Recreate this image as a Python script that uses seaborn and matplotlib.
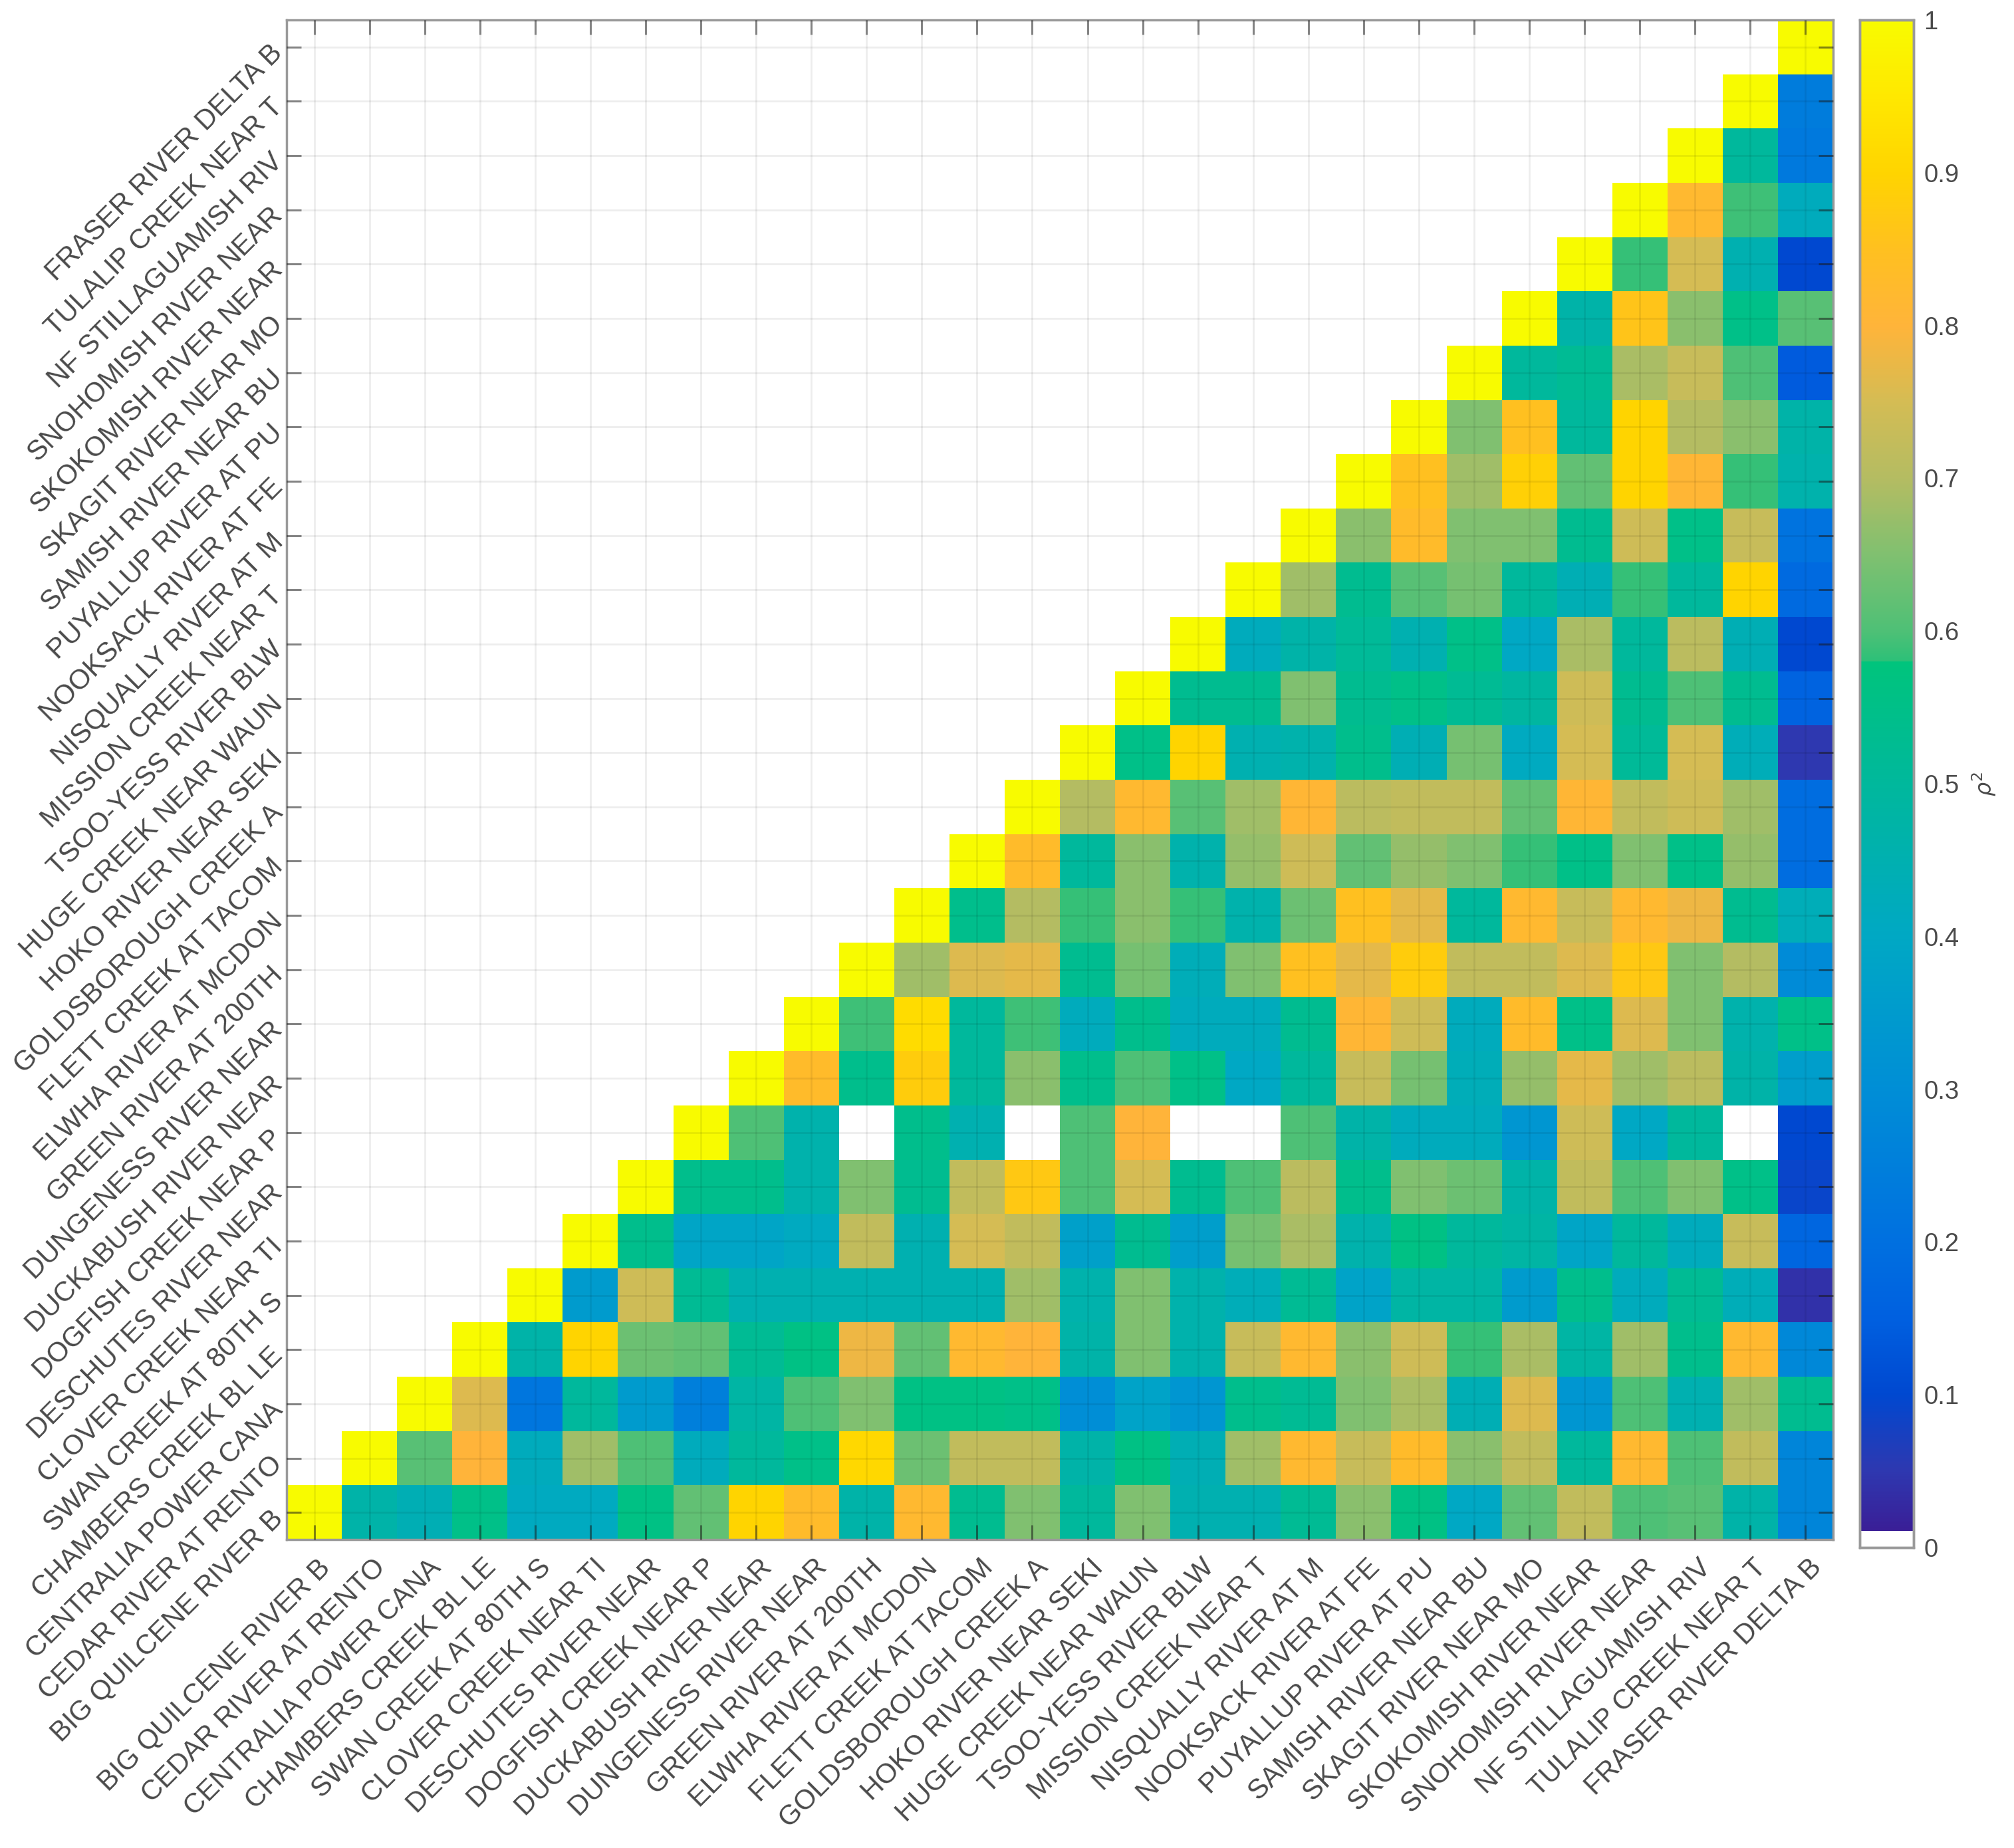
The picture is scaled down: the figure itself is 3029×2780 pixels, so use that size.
import numpy as np
import seaborn as sns
from matplotlib import pyplot as plt
from matplotlib.colors import LinearSegmentedColormap
from matplotlib.transforms import ScaledTranslation

stations = [
    'BIG QUILCENE RIVER B', 'CEDAR RIVER AT RENTO', 'CENTRALIA POWER CANA',
    'CHAMBERS CREEK BL LE', 'SWAN CREEK AT 80TH S', 'CLOVER CREEK NEAR TI',
    'DESCHUTES RIVER NEAR', 'DOGFISH CREEK NEAR P', 'DUCKABUSH RIVER NEAR',
    'DUNGENESS RIVER NEAR', 'GREEN RIVER AT 200TH', 'ELWHA RIVER AT MCDON',
    'FLETT CREEK AT TACOM', 'GOLDSBOROUGH CREEK A', 'HOKO RIVER NEAR SEKI',
    'HUGE CREEK NEAR WAUN', 'TSOO-YESS RIVER BLW', 'MISSION CREEK NEAR T',
    'NISQUALLY RIVER AT M', 'NOOKSACK RIVER AT FE', 'PUYALLUP RIVER AT PU',
    'SAMISH RIVER NEAR BU', 'SKAGIT RIVER NEAR MO', 'SKOKOMISH RIVER NEAR',
    'SNOHOMISH RIVER NEAR', 'NF STILLAGUAMISH RIV', 'TULALIP CREEK NEAR T',
    'FRASER RIVER DELTA B',
]

# each row starts at the diagonal, 0 = the white cells
big_quilcene = [1, .47, .44, .55, .41, .41, .56, .62, .9, .83, .47, .82, .53, .65, .5, .65, .45, .45, .52, .66, .56, .4, .62, .72, .6, .61, .47, .27]
cedar = [1, .61, .8, .42, .68, .6, .42, .5, .55, .91, .63, .72, .72, .47, .56, .44, .68, .82, .73, .83, .66, .72, .5, .82, .6, .72, .27]
centralia = [1, .76, .22, .5, .35, .25, .48, .6, .65, .56, .56, .55, .3, .38, .33, .54, .52, .65, .69, .44, .76, .33, .6, .45, .68, .53]
chambers = [1, .47, .9, .63, .62, .52, .56, .78, .62, .82, .8, .47, .65, .46, .73, .82, .66, .74, .585, .69, .48, .68, .54, .82, .28]
swan = [1, .35, .74, .52, .45, .45, .45, .45, .45, .68, .46, .65, .46, .43, .52, .38, .48, .48, .35, .54, .42, .52, .43, .04]
clover = [1, .54, .39, .39, .41, .72, .45, .75, .72, .37, .53, .36, .64, .69, .46, .56, .5, .48, .39, .5, .42, .73, .17]
deschutes = [1, .54, .54, .46, .65, .53, .72, .87, .6, .75, .53, .6, .71, .54, .65, .63, .47, .72, .6, .65, .55, .09]
dogfish = [1, .6, .46, 0, .54, .45, 0, .6, .8, 0, 0, .6, .47, .42, .42, .33, .74, .4, .5, 0, .1]
duckabush = [1, .83, .54, .88, .5, .66, .54, .6, .55, .4, .5, .73, .64, .43, .67, .77, .68, .71, .47, .36]
dungeness = [1, .59, .92, .5, .59, .42, .54, .42, .42, .53, .81, .74, .42, .83, .55, .76, .65, .46, .55]
green = [1, .68, .76, .77, .53, .64, .43, .65, .85, .77, .88, .72, .72, .76, .87, .65, .7, .29]
elwha = [1, .54, .7, .585, .66, .585, .46, .63, .85, .77, .5, .82, .73, .82, .78, .53, .43]
flett = [1, .83, .5, .66, .46, .67, .74, .62, .67, .65, .585, .55, .65, .55, .67, .19]
goldsborough = [1, .7, .82, .61, .68, .81, .71, .72, .72, .62, .81, .72, .74, .68, .19]
hoko = [1, .55, .9, .45, .46, .54, .44, .64, .41, .75, .51, .75, .43, .05]
huge = [1, .53, .53, .65, .53, .55, .52, .49, .74, .53, .6, .53, .16]
tsoo_yess = [1, .42, .47, .51, .45, .55, .4, .69, .5, .71, .44, .1]
mission = [1, .68, .53, .61, .64, .5, .44, .585, .5, .9, .18]
nisqually = [1, .66, .83, .65, .65, .53, .74, .55, .73, .21]
nooksack = [1, .85, .68, .89, .62, .9, .81, .585, .46]
puyallup = [1, .65, .85, .5, .9, .7, .66, .47]
samish = [1, .5, .52, .69, .73, .6, .14]
skagit = [1, .47, .86, .66, .55, .61]
skokomish = [1, .585, .75, .45, .1]
snohomish = [1, .82, .59, .42]
nf_stillaguamish = [1, .5, .23]
tulalip = [1, .24]
fraser = [1]

rows = [big_quilcene, cedar, centralia, chambers, swan, clover, deschutes,
        dogfish, duckabush, dungeness, green, elwha, flett, goldsborough,
        hoko, huge, tsoo_yess, mission, nisqually, nooksack, puyallup,
        samish, skagit, skokomish, snohomish, nf_stillaguamish, tulalip, fraser]

colorbar_ticks = [0, .1, .2, .3, .4, .5, .6, .7, .8, .9, 1]
colorbar_labels = ['0', '0.1', '0.2', '0.3', '0.4', '0.5', '0.6', '0.7', '0.8', '0.9', '1']

n = len(stations)
grid = np.full((n, n), np.nan)
for i, row in enumerate(rows):
    grid[i, i:] = row

# parula style map with white below 0.01 and the step near 0.58
cmap = LinearSegmentedColormap.from_list('r2', [
    (0, '#ffffff'), (.0105, '#ffffff'), (.0105, '#3a1e96'), (.05, '#2e38b0'),
    (.1, '#0048d0'), (.15, '#0060e0'), (.2, '#0070e0'), (.3, '#008ed6'),
    (.4, '#00a8c4'), (.45, '#00b0b0'), (.5, '#00b89c'), (.58, '#00c47c'),
    (.58, '#2cc078'), (.6, '#4ec076'), (.65, '#80c070'), (.7, '#b4bc62'),
    (.75, '#d4bc54'), (.8, '#ffb43a'), (.85, '#ffc020'), (.9, '#ffd400'),
    (.95, '#ffe800'), (1, '#f8fb00')], N=1024)

sns.set_theme(style='white')
plt.rcParams['font.family'] = ['Liberation Sans', 'DejaVu Sans']

W, H = 3029, 2780
fig = plt.figure(figsize=(W / 100, H / 100), dpi=100)
ax = fig.add_axes([431 / W, 1 - 2316 / H, 2326 / W, 2286 / H])
cax = fig.add_axes([2797 / W, 1 - 2328 / H, 81 / W, 2298 / H])

text_col = '#4a4a4a'
frame_col = '#9a9a9a'
tick_col = (0.1, 0.1, 0.1, 0.5)

sns.heatmap(grid, cmap=cmap, vmin=0, vmax=1, ax=ax, cbar_ax=cax, square=False,
            xticklabels=stations, yticklabels=stations)
ax.set_ylim(0, n)

# faint grid on top of the cells, like matlab
ax.set_axisbelow(False)
ax.grid(True, color='black', alpha=0.07, linewidth=2)

ax.tick_params(axis='both', which='major', direction='in', length=16, width=2.2,
               color=tick_col, top=True, right=True, bottom=True, left=True,
               labelsize=30, labelcolor=text_col, pad=0)
plt.setp(ax.get_xticklabels(), rotation=45, ha='right', va='center', rotation_mode='anchor')
plt.setp(ax.get_yticklabels(), rotation=45, ha='right', va='center', rotation_mode='anchor')

# move the label ends to where they sit in the figure
x_shift = ScaledTranslation(18 / 100, -36 / 100, fig.dpi_scale_trans)
y_shift = ScaledTranslation(-12 / 100, -3 / 100, fig.dpi_scale_trans)
for lab in ax.get_xticklabels():
    lab.set_transform(lab.get_transform() + x_shift)
for lab in ax.get_yticklabels():
    lab.set_transform(lab.get_transform() + y_shift)

for side in ax.spines.values():
    side.set_visible(True)
    side.set_color(frame_col)
    side.set_linewidth(2.5)

cax.set_yticks(colorbar_ticks, colorbar_labels)
cax.tick_params(axis='y', direction='in', length=16, width=2.2, color=tick_col,
                right=True, left=False, labelsize=27.5, labelcolor=text_col, pad=11)
cax.set_ylabel(r'$\rho^2$', fontsize=24, color=text_col, labelpad=12)
cax.yaxis.set_label_position('right')
for side in cax.spines.values():
    side.set_visible(True)
    side.set_color(frame_col)
    side.set_linewidth(2.5)

fig.savefig('out.png', dpi=100)
